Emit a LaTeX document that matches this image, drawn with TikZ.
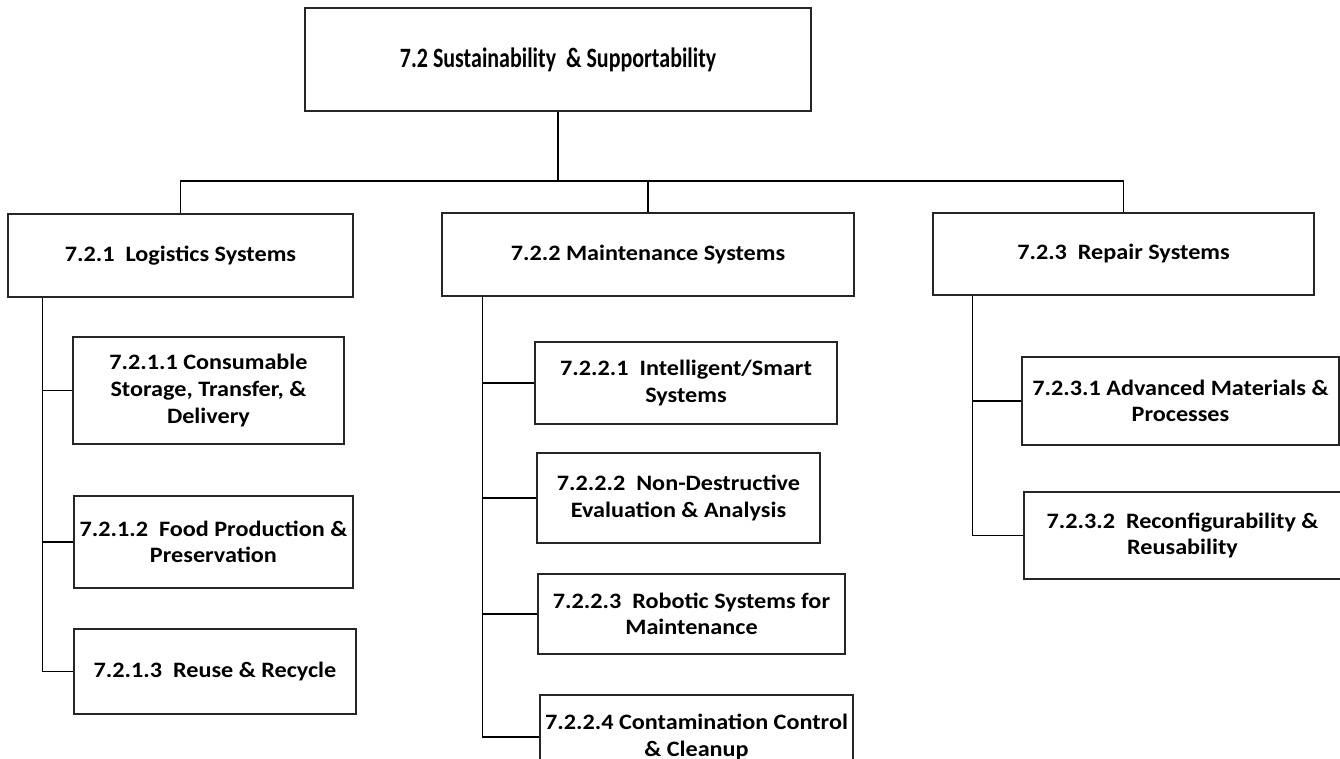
\documentclass[tikz,border=0pt]{standalone}
\usepackage{fontspec}
\setmainfont{Carlito}
\newfontfamily\childfont[FakeStretch=1.1]{Carlito}
\newfontfamily\titlefont[FakeStretch=0.785]{Carlito}
\begin{document}
\begin{tikzpicture}[x=1pt,y=-1pt,
  box/.style={draw=black!85,line width=1.3pt,fill=white,align=center,inner sep=2pt,
    font=\childfont\fontsize{22}{26.6}\selectfont\bfseries},
  topbox/.style={box,font=\titlefont\fontsize{28}{33}\selectfont\bfseries},
  conn/.style={draw=black,line width=1.7pt}]
\clip (0,0) rectangle (1340,759);
\useasboundingbox (0,0) rectangle (1340,759);
\fill[white] (0,0) rectangle (1340,759);

\node[topbox,minimum width=506pt,minimum height=103pt] (top) at (558,59.5) {\raisebox{-3pt}{7.2 Sustainability~ \& Supportability}};

\node[box,minimum width=345pt,minimum height=83pt] (log) at (180.5,255.5) {\raisebox{-1.5pt}{7.2.1~ Logistics Systems}};
\node[box,minimum width=412pt,minimum height=83pt] (mnt) at (648,254.5) {\raisebox{-1.5pt}{7.2.2 Maintenance Systems}};
\node[box,minimum width=381pt,minimum height=82pt] (rep) at (1123.5,254) {\raisebox{-1.5pt}{7.2.3~ Repair Systems}};

\node[box,minimum width=271pt,minimum height=107pt] (l1) at (208.5,390.5) {7.2.1.1 Consumable\\Storage, Transfer, \&\\Delivery};
\node[box,minimum width=279pt,minimum height=92pt] (l2) at (213.5,542) {7.2.1.2~ Food Production \&\\Preservation};
\node[box,minimum width=282pt,minimum height=85pt] (l3) at (215,671.5) {7.2.1.3~ Reuse \& Recycle};

\node[box,minimum width=302pt,minimum height=82pt] (m1) at (686,383) {7.2.2.1~ Intelligent/Smart\\Systems};
\node[box,minimum width=283pt,minimum height=90pt] (m2) at (678.5,498) {7.2.2.2~ Non-Destructive\\Evaluation \& Analysis};
\node[box,minimum width=307pt,minimum height=80pt] (m3) at (691.5,614) {7.2.2.3~ Robotic Systems for\\Maintenance};
\node[box,minimum width=313pt,minimum height=84pt,inner sep=0pt] (m4) at (696.5,737) {7.2.2.4 Contamination Control\\\& Cleanup};

\node[box,minimum width=317pt,minimum height=88pt] (r1) at (1180.5,401) {7.2.3.1 Advanced Materials \&\\Processes};
\node[box,minimum width=317pt,minimum height=87pt] (r2) at (1182.5,535.5) {7.2.3.2~ Reconfigurability \&\\Reusability};

% top-level bus
\coordinate (bus) at (558,181);
\draw[conn] (top.south) -- (bus);
\draw[conn] (log.north) |- (bus -| rep.north) -- (rep.north);
\draw[conn] (mnt.north) -- (mnt.north |- bus);

% trunks
\coordinate (lt) at ([xshift=35pt]log.south west);
\coordinate (mt) at ([xshift=41pt]mnt.south west);
\coordinate (rt) at ([xshift=40pt]rep.south west);
\draw[conn] (lt) |- (l3.west);
\draw[conn] (l1.west) -- (l1.west -| lt);
\draw[conn] (l2.west) -- (l2.west -| lt);
\draw[conn] (mt) |- (m4.west);
\draw[conn] (m1.west) -- (m1.west -| mt);
\draw[conn] (m2.west) -- (m2.west -| mt);
\draw[conn] (m3.west) -- (m3.west -| mt);
\draw[conn] (rt) |- (r2.west);
\draw[conn] (r1.west) -- (r1.west -| rt);
\end{tikzpicture}
\end{document}
